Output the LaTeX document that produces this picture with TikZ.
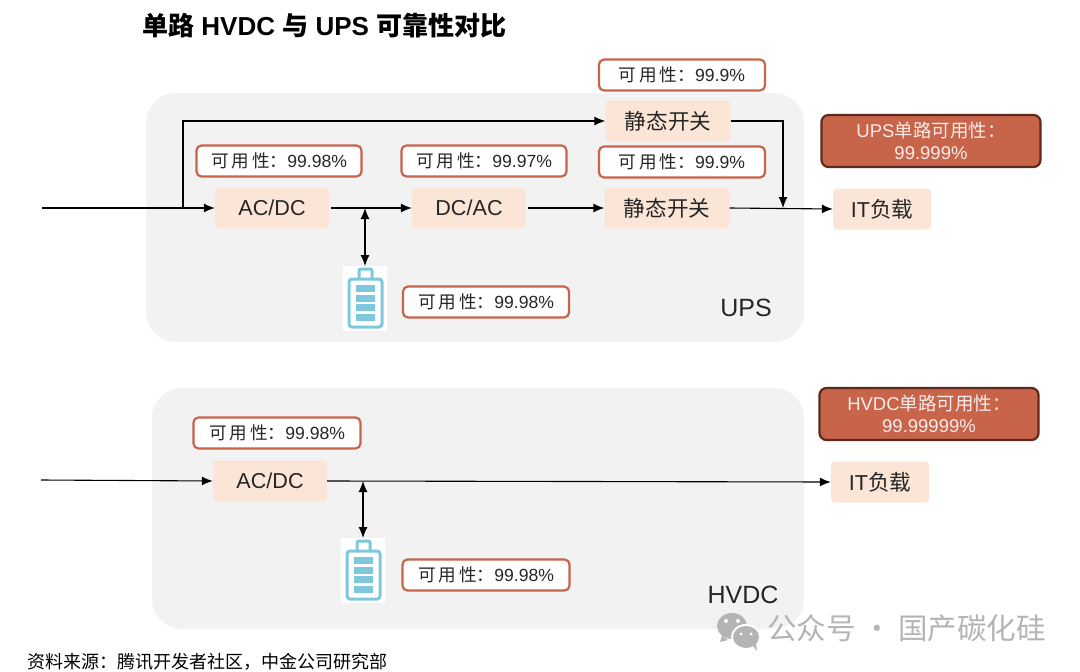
\documentclass[tikz,border=0pt]{standalone}
\usepackage{fontspec}
\setmainfont{Liberation Sans}
\newfontfamily\cjk{Noto Sans CJK SC}
\newfontfamily\cjkb{Noto Sans CJK SC Bold}
\usetikzlibrary{arrows.meta,calc}
\definecolor{panel}{HTML}{F2F2F2}
\definecolor{peach}{HTML}{FBE5D6}
\definecolor{rust}{HTML}{C8644A}
\definecolor{rustd}{HTML}{5E2A1C}
\definecolor{batt}{HTML}{7EC8DE}
\definecolor{ink}{HTML}{262626}
\definecolor{wm}{HTML}{B4B4B4}
\newcommand{\avail}[1]{{\cjk 可\,用\,性：}#1}
\newcommand{\lowr}[1]{\lower1pt\hbox{#1}}
\tikzset{
  x=1pt,y=-1pt,
  panelbox/.style={fill=panel,rounded corners=30pt,draw=none},
  procbox/.style={fill=peach,rounded corners=4pt,minimum height=41pt,text=ink,font=\fontsize{21.6}{24}\selectfont,inner sep=0pt},
  availbox/.style={draw=rust,line width=2.2pt,fill=white,rounded corners=5pt,minimum height=31pt,text=ink,font=\fontsize{17.6}{20}\selectfont,inner sep=0pt},
  sumbox/.style={draw=rustd,line width=2.2pt,fill=rust,rounded corners=7pt,text=white!88!rust,align=center,font=\fontsize{18.5}{22}\selectfont,inner sep=0pt},
  conn/.style={draw=black,line width=1.1pt,-{Latex[length=11pt,width=9pt]}},
  dbl/.style={draw=black,line width=1.1pt,{Latex[length=11pt,width=9pt]}-{Latex[length=11pt,width=9pt]}},
  lab/.style={text=ink,inner sep=0pt}
}
\newcommand{\battery}[2]{%
  \fill[white] (#1-22,#2-32) rectangle (#1+22,#2+33);
  \draw[batt,line width=3pt,rounded corners=3pt] (#1-16,#2-19) rectangle (#1+17,#2+29);
  \draw[batt,line width=3pt,rounded corners=2pt] (#1-6,#2-19) -- (#1-6,#2-29) -- (#1+7,#2-29) -- (#1+7,#2-19);
  \foreach \yy in {-13,-3.5,6,15.5}{\fill[batt] (#1-9,#2+\yy) rectangle (#1+9.5,#2+\yy+7);}
}
\begin{document}
\begin{tikzpicture}
\useasboundingbox (0,0) rectangle (1080,672);
\fill[white] (0,0) rectangle (1080,672);
% title
\node[anchor=west,inner sep=0pt] (title) at (142,26) {\fontsize{26}{30}\selectfont\bfseries{\cjkb 单路} HVDC {\cjkb 与} UPS {\cjkb 可靠性对比}};
% panels
\fill[panelbox] (146,93) rectangle (804,342);
\fill[panelbox] (152,388) rectangle (804,629);
% UPS row
\node[procbox,minimum width=114pt] (ac1) at (272,208) {\lowr{AC/DC}};
\node[procbox,minimum width=114pt] (dc1) at (469,208) {\lowr{DC/AC}};
\node[procbox,minimum width=125pt] (sw1) at (667,208) {\lowr{\cjk 静态开关}};
\node[procbox,minimum width=125pt] (sw2) at (668,121) {\lowr{\cjk 静态开关}};
\node[procbox,minimum width=98pt] (it1) at (882,209) {\lowr{IT{\cjk 负载}}};
\node[availbox,minimum width=165pt] (a1) at (279,161) {\avail{99.98\%}};
\node[availbox,minimum width=165pt] (a2) at (484,161) {\avail{99.97\%}};
\node[availbox,minimum width=166pt] (a3) at (682,162) {\avail{99.9\%}};
\node[availbox,minimum width=166pt] (a4) at (682,75) {\avail{99.9\%}};
\node[availbox,minimum width=166pt] (a5) at (486,302) {\avail{99.98\%}};
\node[sumbox,minimum width=219pt,minimum height=52pt] (s1) at (931,141) {UPS{\cjk 单路可用性：}\\99.999\%};
\node[lab,font=\fontsize{25}{28}\selectfont] (ups) at (746,308) {UPS};
\battery{365}{298}
\coordinate (in1) at (42,208);
\coordinate (bp1) at (183,208);
\coordinate (m1) at (365,208);
\coordinate (b1) at (365,266);
\coordinate (j1) at (783,208);
\draw[conn] (in1) -- (ac1.west);
\draw[conn] (bp1) -- (183,121) -- (sw2.west);
\draw[conn] (ac1.east) ++(2,0) -- (dc1.west);
\draw[conn] (dc1.east) ++(2,0) -- (sw1.west);
\draw[conn] (sw1.east) -- (it1.west);
\draw[conn] (sw2.east) -- (783,121) -- (j1);
\draw[dbl] (m1) -- (b1);
% HVDC row
\node[procbox,minimum width=114pt] (ac2) at (270,481) {\lowr{AC/DC}};
\node[procbox,minimum width=98pt] (it2) at (880,482) {\lowr{IT{\cjk 负载}}};
\node[availbox,minimum width=167pt] (a6) at (277,433) {\avail{99.98\%}};
\node[availbox,minimum width=167pt] (a7) at (486,575) {\avail{99.98\%}};
\node[sumbox,minimum width=219pt,minimum height=52pt] (s2) at (929,414) {HVDC{\cjk 单路可用性：}\\99.99999\%};
\node[lab,font=\fontsize{25}{28}\selectfont] (hv) at (743,595) {HVDC};
\battery{363}{570}
\coordinate (in2) at (41,480);
\coordinate (m2) at (363,481);
\coordinate (b2) at (363,538);
\draw[conn] (in2) -- (ac2.west);
\draw[conn] (ac2.east) -- (it2.west);
\draw[dbl] (m2) -- (b2);
% watermark
\fill[wm] (732,626) ellipse (15pt and 13pt);
\fill[wm] (722,636) -- (728,640) -- (720,642) -- cycle;
\fill[white] (746,637) ellipse (15pt and 13pt);
\fill[wm] (746,637) ellipse (13pt and 11pt);
\fill[wm] (752,645) -- (756,644) -- (757,651) -- cycle;
\fill[white] (726,621) circle (2pt) (738,621) circle (2pt) (741,634) circle (1.7pt) (751,634) circle (1.7pt);
\node[anchor=west,inner sep=0pt,text=wm,font=\fontsize{29.5}{32}\selectfont\cjk] (wmt) at (767,628) {公众号 · 国产碳化硅};
% source
\node[anchor=west,inner sep=0pt,text=black,font=\fontsize{18}{20}\selectfont\cjk] (src) at (27,662) {资料来源：腾讯开发者社区，中金公司研究部};
\end{tikzpicture}
\end{document}
